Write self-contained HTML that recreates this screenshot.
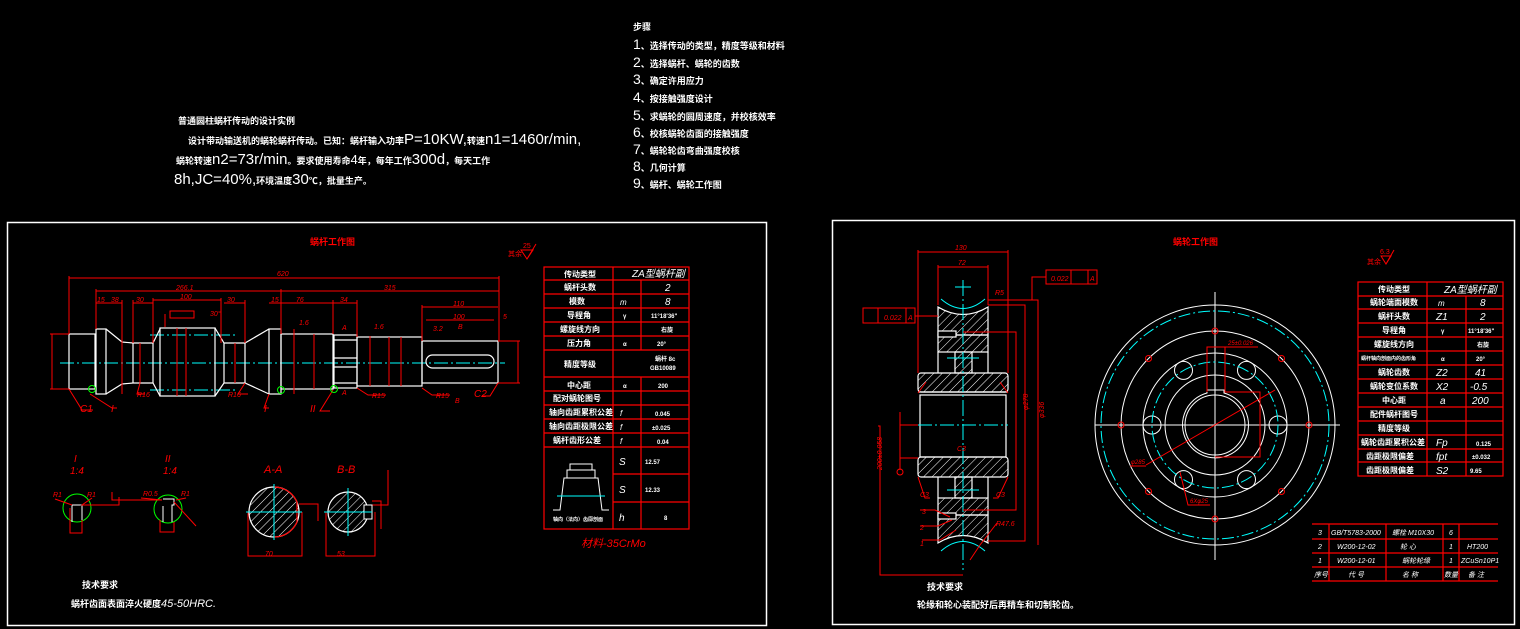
<!DOCTYPE html>
<html><head><meta charset="utf-8"><style>
html,body{margin:0;padding:0;background:#000;width:1520px;height:629px;overflow:hidden}
svg{display:block}
text{font-family:"Liberation Sans","Noto Sans CJK SC",sans-serif}
.w{fill:#fff}.r{fill:#f00}
</style></head><body>
<svg width="1520" height="629" viewBox="0 0 1520 629" xmlns="http://www.w3.org/2000/svg">
<defs>
<pattern id="h" width="6" height="6" patternUnits="userSpaceOnUse" patternTransform="rotate(45)">
<line x1="0" y1="0" x2="0" y2="6" stroke="#fff" stroke-width="1"/></pattern>
</defs>
<rect width="1520" height="629" fill="#000"/>

<!-- top text -->
<g class="w" font-size="9" font-weight="bold">
<text x="178" y="124">普通圆柱蜗杆传动的设计实例</text>
<text x="188" y="144">设计带动输送机的蜗轮蜗杆传动。已知：蜗杆输入功率<tspan font-size="15" font-weight="normal">P=10KW,</tspan>转速<tspan font-size="15" font-weight="normal">n1=1460r/min,</tspan></text>
<text x="176" y="164">蜗轮转速<tspan font-size="15" font-weight="normal">n2=73r/min</tspan>。要求使用寿命<tspan font-size="13" font-weight="normal">4</tspan>年，每年工作<tspan font-size="15" font-weight="normal">300d</tspan>，每天工作</text>
<text x="174" y="184"><tspan font-size="15" font-weight="normal">8h,JC=40%,</tspan>环境温度<tspan font-size="15" font-weight="normal">30</tspan>℃，批量生产。</text>
<text x="633" y="30">步骤</text>
<text x="633" y="49"><tspan font-size="14" font-weight="normal">1</tspan>、选择传动的类型，精度等级和材料</text>
<text x="633" y="67"><tspan font-size="14" font-weight="normal">2</tspan>、选择蜗杆、蜗轮的齿数</text>
<text x="633" y="84"><tspan font-size="14" font-weight="normal">3</tspan>、确定许用应力</text>
<text x="633" y="102"><tspan font-size="14" font-weight="normal">4</tspan>、按接触强度设计</text>
<text x="633" y="120"><tspan font-size="14" font-weight="normal">5</tspan>、求蜗轮的圆周速度，并校核效率</text>
<text x="633" y="137"><tspan font-size="14" font-weight="normal">6</tspan>、校核蜗轮齿面的接触强度</text>
<text x="633" y="154"><tspan font-size="14" font-weight="normal">7</tspan>、蜗轮轮齿弯曲强度校核</text>
<text x="633" y="171"><tspan font-size="14" font-weight="normal">8</tspan>、几何计算</text>
<text x="633" y="188"><tspan font-size="14" font-weight="normal">9</tspan>、蜗杆、蜗轮工作图</text>
</g>

<!-- frames -->
<rect x="7.5" y="222.5" width="759" height="403" fill="none" stroke="#fff" stroke-width="1.5"/>
<rect x="832.5" y="220.5" width="682" height="404" fill="none" stroke="#fff" stroke-width="1.5"/>

<!-- ===== LEFT: worm shaft ===== -->
<text x="310" y="245" class="r" font-size="9" font-weight="bold">蜗杆工作图</text>
<text x="508" y="256" class="r" font-size="7">其余</text>
<path d="M521 250 L533 250 L527 259 Z M527 259 L536 244" fill="none" stroke="#f00"/>
<text x="523" y="248" class="r" font-size="7">25</text>

<g stroke="#0ff" stroke-width="1" stroke-dasharray="14 3 2 3">
<line x1="60" y1="363" x2="505" y2="363"/>
<line x1="150" y1="335" x2="235" y2="335"/><line x1="150" y1="390" x2="235" y2="390"/>
</g>
<g fill="none" stroke="#fff" stroke-width="1.2">
<rect x="69" y="334" width="26" height="55"/>
<rect x="96" y="329" width="10" height="65"/>
<path d="M106 329 L122 342 L133 343 L153 343 L160 329 L160 328 M106 394 L122 384 L133 383 L153 383 L160 396"/>
<line x1="133" y1="343" x2="133" y2="383"/><line x1="153" y1="343" x2="153" y2="383"/>
<rect x="160" y="328" width="55" height="68"/>
<path d="M215 328 L224 343 L245 343 L269 329 M215 396 L224 383 L245 383 L269 394"/>
<line x1="224" y1="343" x2="224" y2="383"/><line x1="245" y1="343" x2="245" y2="383"/>
<rect x="269" y="329" width="12" height="65"/>
<rect x="281" y="334" width="52" height="55"/>
<rect x="334" y="335" width="23" height="53"/>
<line x1="334" y1="340" x2="357" y2="340"/><line x1="334" y1="383" x2="357" y2="383"/>
<line x1="334" y1="358" x2="357" y2="358"/><line x1="334" y1="367" x2="357" y2="367"/>
<rect x="357" y="337" width="65" height="49"/>
<rect x="422" y="341" width="76" height="42"/>
<rect x="426" y="355" width="68" height="13" rx="6.5"/>
</g>
<!-- shaft dims -->
<g fill="none" stroke="#f00" stroke-width="1">
<line x1="69" y1="278" x2="499" y2="278"/><line x1="69" y1="276" x2="69" y2="334"/><line x1="499" y1="276" x2="499" y2="341"/>
<line x1="96" y1="291" x2="499" y2="291"/><line x1="96" y1="289" x2="96" y2="329"/><line x1="281" y1="289" x2="281" y2="334"/>
<line x1="96" y1="303" x2="122" y2="303"/><line x1="133" y1="303" x2="153" y2="303"/><line x1="153" y1="300" x2="221" y2="300"/>
<line x1="224" y1="303" x2="245" y2="303"/><line x1="269" y1="303" x2="281" y2="303"/><line x1="281" y1="303" x2="333" y2="303"/>
<line x1="333" y1="303" x2="357" y2="303"/><line x1="422" y1="307" x2="498" y2="307"/><line x1="426" y1="320" x2="494" y2="320"/>
<line x1="122" y1="300" x2="122" y2="342"/><line x1="133" y1="300" x2="133" y2="343"/><line x1="153" y1="298" x2="153" y2="343"/>
<line x1="221" y1="298" x2="221" y2="343"/><line x1="245" y1="300" x2="245" y2="343"/><line x1="333" y1="300" x2="333" y2="334"/>
<line x1="357" y1="300" x2="357" y2="337"/><line x1="422" y1="305" x2="422" y2="341"/>
<line x1="50" y1="334" x2="69" y2="334"/><line x1="50" y1="389" x2="69" y2="389"/><line x1="52" y1="334" x2="52" y2="389"/>
<line x1="498" y1="341" x2="520" y2="341"/><line x1="498" y1="383" x2="520" y2="383"/><line x1="518" y1="341" x2="518" y2="383"/>
<line x1="122" y1="329" x2="122" y2="394"/><line x1="140" y1="343" x2="140" y2="383"/><line x1="177" y1="328" x2="177" y2="396"/>
<line x1="186" y1="328" x2="186" y2="396"/><line x1="235" y1="343" x2="235" y2="383"/><line x1="294" y1="329" x2="294" y2="394"/>
<line x1="314" y1="334" x2="314" y2="389"/><line x1="370" y1="336" x2="370" y2="386"/><line x1="389" y1="337" x2="389" y2="386"/>
<line x1="401" y1="337" x2="401" y2="386"/>
<path d="M69 389 L82 410 L93 410 M90 394 L112 408 L117 408 M269 394 L264 408 L269 408 M333 390 L320 411 L330 411 M357 388 L368 395 L386 395 M422 388 L432 395 L450 395 M498 383 L490 396 L482 396"/>
<path d="M140 383 L137 394 L145 394 M245 383 L238 394 L248 394"/>
<rect x="170" y="311" width="24" height="7"/><line x1="165" y1="314" x2="165" y2="327"/>
</g>
<g fill="none" stroke="#0f0"><circle cx="92" cy="389" r="3.5"/><circle cx="281" cy="390" r="3.5"/><circle cx="334" cy="389" r="3.5"/></g>
<g class="r" font-size="7" font-style="italic">
<text x="277" y="276">620</text><text x="176" y="290">266.1</text><text x="384" y="290">315</text>
<text x="97" y="302">15</text><text x="111" y="302">38</text><text x="136" y="302">30</text><text x="180" y="299">100</text>
<text x="227" y="302">30</text><text x="271" y="302">15</text><text x="296" y="302">76</text><text x="340" y="302">34</text>
<text x="453" y="306">110</text><text x="453" y="319">100</text><text x="503" y="319">5</text>
<text x="433" y="331">3.2</text><text x="374" y="329">1.6</text><text x="299" y="325">1.6</text><text x="210" y="316">30°</text>
<text x="80" y="412" font-size="10">C1</text><text x="111" y="412" font-size="10">I</text><text x="264" y="412" font-size="10">I</text>
<text x="310" y="412" font-size="10">II</text><text x="372" y="398">R15</text><text x="436" y="398">R15</text><text x="474" y="397" font-size="10">C2</text>
<text x="137" y="397">R16</text><text x="228" y="397">R16</text><text x="342" y="330">A</text><text x="342" y="395">A</text>
<text x="455" y="403">B</text><text x="458" y="329">B</text>
</g>
<!-- details -->
<g class="r" font-size="10" font-style="italic">
<text x="74" y="462">I</text><text x="70" y="474">1:4</text>
<text x="165" y="462">II</text><text x="163" y="474">1:4</text>
<text x="264" y="473" font-size="11">A-A</text><text x="337" y="473" font-size="11">B-B</text>
<text x="53" y="497" font-size="7">R1</text><text x="87" y="497" font-size="7">R1</text>
<text x="143" y="496" font-size="7">R0.5</text><text x="181" y="496" font-size="7">R1</text>
<text x="265" y="556" font-size="7">70</text><text x="337" y="556" font-size="7">53</text>
</g>
<g fill="none" stroke="#0f0"><circle cx="77" cy="508" r="14"/><circle cx="168" cy="509" r="14"/></g>
<g fill="none" stroke="#fff"><path d="M72 505 L72 522 M72 505 L82 505 L82 520 M163 506 L163 522 M163 499 L174 499 L174 505 L172 505 L172 522"/></g>
<g fill="none" stroke="#f00">
<path d="M70 508 L70 533 L82 533 L82 520 M55 499 L72 505 M92 498 L82 505 L119 505 L119 497 M160 520 L160 532 L174 532 L174 522 M141 498 L162 500 L112 500 L112 492 M186 498 L176 500 M174 502 L196 526"/>
<path d="M248 512 L248 556 L302 556 L302 512 M326 512 L326 556 L375 556 L375 512 M299 504 L318 504 L318 521 M372 501 L381 501 L381 529 M370 505 L388 505 L388 470"/>
</g>
<circle cx="274" cy="512" r="25" fill="url(#h)" stroke="#fff" stroke-width="1.2"/>
<path d="M274 487 A25 25 0 0 1 297 502 L297 522 A25 25 0 0 1 274 537" fill="none" stroke="#f00" stroke-width="1.2"/>
<circle cx="348" cy="512" r="20" fill="url(#h)" stroke="#fff" stroke-width="1.2"/>
<rect x="364" y="505" width="8" height="14" fill="#000" stroke="#fff"/>
<g stroke="#0ff"><line x1="246" y1="512" x2="302" y2="512"/><line x1="274" y1="484" x2="274" y2="540"/><line x1="324" y1="512" x2="372" y2="512"/><line x1="348" y1="488" x2="348" y2="536"/></g>
<g class="w" font-size="9" font-weight="bold">
<text x="82" y="588">技术要求</text>
<text x="71" y="607">蜗杆齿面表面淬火硬度<tspan font-size="11" font-weight="normal" font-style="italic">45-50HRC.</tspan></text>
</g>
<!-- shaft table -->
<g fill="none" stroke="#f00" stroke-width="1.2">
<rect x="544" y="267" width="145" height="262"/>
<line x1="613" y1="267" x2="613" y2="529"/><line x1="641" y1="280" x2="641" y2="350"/><line x1="641" y1="377" x2="641" y2="529"/>
<line x1="544" y1="280" x2="689" y2="280"/><line x1="544" y1="294" x2="689" y2="294"/><line x1="544" y1="308" x2="689" y2="308"/>
<line x1="544" y1="322" x2="689" y2="322"/><line x1="544" y1="336" x2="689" y2="336"/><line x1="544" y1="350" x2="689" y2="350"/>
<line x1="544" y1="377" x2="689" y2="377"/><line x1="544" y1="391" x2="689" y2="391"/><line x1="544" y1="405" x2="689" y2="405"/>
<line x1="544" y1="419" x2="689" y2="419"/><line x1="544" y1="433" x2="689" y2="433"/><line x1="544" y1="447" x2="689" y2="447"/>
<line x1="613" y1="474" x2="689" y2="474"/><line x1="613" y1="502" x2="689" y2="502"/>
</g>
<g class="w" font-size="8" font-weight="bold">
<text x="564" y="277">传动类型</text><text x="632" y="277" font-size="10" font-weight="normal" font-style="italic">ZA型蜗杆副</text>
<text x="564" y="290">蜗杆头数</text><text x="665" y="291" font-size="10" font-weight="normal" font-style="italic">2</text>
<text x="569" y="304">模数</text><text x="620" y="305" font-style="italic" font-weight="normal">m</text><text x="665" y="305" font-size="10" font-weight="normal" font-style="italic">8</text>
<text x="567" y="318">导程角</text><text x="623" y="318" font-size="6">γ</text><text x="651" y="318" font-size="6">11°18'36"</text>
<text x="560" y="332">螺旋线方向</text><text x="661" y="332" font-size="6">右旋</text>
<text x="567" y="346">压力角</text><text x="623" y="346" font-size="6">α</text><text x="657" y="346" font-size="6">20°</text>
<text x="564" y="367">精度等级</text><text x="655" y="361" font-size="6">蜗杆 8c</text><text x="650" y="370" font-size="6">GB10089</text>
<text x="567" y="388">中心距</text><text x="623" y="388" font-size="6">α</text><text x="658" y="388" font-size="6">200</text>
<text x="553" y="401">配对蜗轮图号</text>
<text x="549" y="415">轴向齿距累积公差</text><text x="620" y="416" font-style="italic" font-weight="normal">f</text><text x="655" y="416" font-size="6">0.045</text>
<text x="549" y="429">轴向齿距极限公差</text><text x="620" y="430" font-style="italic" font-weight="normal">f</text><text x="652" y="430" font-size="6">±0.025</text>
<text x="553" y="443">蜗杆齿形公差</text><text x="620" y="444" font-style="italic" font-weight="normal">f</text><text x="657" y="444" font-size="6">0.04</text>
<text x="619" y="465" font-size="10" font-weight="normal" font-style="italic">S</text><text x="645" y="464" font-size="6">12.57</text>
<text x="619" y="493" font-size="10" font-weight="normal" font-style="italic">S</text><text x="645" y="492" font-size="6">12.33</text>
<text x="619" y="521" font-size="10" font-weight="normal" font-style="italic">h</text><text x="664" y="520" font-size="6">8</text>
<text x="553" y="521" font-size="5">轴向（法向）齿廓剖面</text>
</g>
<path d="M553 510 L560 510 L564 478 L598 478 L602 510 L609 510 M567 478 L567 470 L595 470 L595 478 M570 470 L570 464 L592 464 L592 470" fill="none" stroke="#fff"/>
<line x1="557" y1="496" x2="605" y2="496" stroke="#0ff"/>
<text x="581" y="547" class="r" font-size="11" font-style="italic">材料-35CrMo</text>

<!-- ===== RIGHT: worm wheel ===== -->
<text x="1173" y="245" class="r" font-size="9" font-weight="bold">蜗轮工作图</text>
<text x="1367" y="264" class="r" font-size="7">其余</text>
<path d="M1381 256 L1391 256 L1386 264 Z M1386 264 L1394 250" fill="none" stroke="#f00"/>
<text x="1380" y="254" class="r" font-size="7">6.3</text>

<!-- side view -->
<g stroke="#fff" stroke-width="1.2">
<rect x="938" y="335" width="50" height="17" fill="url(#h)"/>
<rect x="955" y="352" width="17" height="21" fill="url(#h)"/>
<rect x="918" y="373" width="90" height="19" fill="url(#h)" rx="3"/>
<rect x="918" y="457" width="90" height="20" fill="url(#h)" rx="3"/>
<rect x="955" y="477" width="17" height="21" fill="url(#h)"/>
<rect x="938" y="498" width="50" height="17" fill="url(#h)"/>
<path d="M938 307 Q963 322 988 307 L988 335 L938 335 Z" fill="url(#h)"/>
<path d="M938 515 L988 515 L988 543 Q963 528 938 543 Z" fill="url(#h)"/>
<rect x="920" y="395" width="86" height="62" fill="none"/>
<line x1="918" y1="392" x2="1008" y2="392"/>
<line x1="938" y1="352" x2="938" y2="373" /><line x1="988" y1="352" x2="988" y2="373"/>
<line x1="938" y1="477" x2="938" y2="498"/><line x1="988" y1="477" x2="988" y2="498"/>
<rect x="938" y="331" width="18" height="6" fill="#000"/><rect x="938" y="513" width="18" height="6" fill="#000"/>
</g>
<g stroke="#0ff" stroke-width="1">
<line x1="963" y1="280" x2="963" y2="570" stroke-dasharray="16 3 2 3"/>
<line x1="955" y1="287" x2="971" y2="287"/><line x1="918" y1="425" x2="1008" y2="425" stroke-dasharray="14 3 2 3"/>
<line x1="947" y1="358" x2="979" y2="358"/><line x1="947" y1="490" x2="979" y2="490"/>
<path d="M941 299 Q963 318 985 299 M941 551 Q963 532 985 551" fill="none"/>
</g>
<g fill="none" stroke="#f00" stroke-width="1">
<line x1="918" y1="252" x2="1008" y2="252"/><line x1="918" y1="250" x2="918" y2="373"/><line x1="1008" y1="250" x2="1008" y2="373"/>
<line x1="938" y1="267" x2="988" y2="267"/><line x1="938" y1="265" x2="938" y2="305"/><line x1="988" y1="265" x2="988" y2="305"/>
<rect x="1046" y="270" width="51" height="14"/><line x1="1071" y1="270" x2="1071" y2="284"/><line x1="1088" y1="270" x2="1088" y2="284"/>
<path d="M1046 277 L1032 277 L1032 300 L1038 300 L1038 545 M988 300 L1038 300"/>
<rect x="863" y="308" width="52" height="15"/><line x1="878" y1="308" x2="878" y2="323"/><line x1="906" y1="308" x2="906" y2="323"/>
<line x1="915" y1="316" x2="938" y2="316"/>
<path d="M988 305 L1025 305 L1025 541 L988 541 M963 332 L1016 332 L1016 510 L963 510"/>
<path d="M878 426 L880 426 L880 575 L963 575 M900 425 L918 425 M900 458 L918 458 M900 412 L900 470"/>
<path d="M918 477 L925 498 L930 498 M1008 477 L998 498 L993 498 M918 393 L926 382 M1008 393 L1000 382"/>
<path d="M920 510 L935 510 L950 517 M920 526 L938 526 L952 520 M922 540 L940 540 L956 530 M997 523 L980 545 L970 560"/>
<circle cx="900" cy="472" r="3"/>
</g>
<g class="r" font-size="7" font-style="italic">
<text x="955" y="250">130</text><text x="958" y="265">72</text><text x="1051" y="281">0.022</text><text x="1090" y="281">A</text>
<text x="884" y="320">0.022</text><text x="908" y="320">A</text><text x="995" y="295">R5</text><text x="996" y="526">R47.6</text>
<text x="957" y="451">C3</text><text x="920" y="497">C3</text><text x="996" y="497">C3</text>
<text x="922" y="514">3</text><text x="920" y="530">2</text><text x="920" y="546">1</text>
<text transform="translate(882 470) rotate(-90)">200±0.058</text>
<text transform="translate(1028 410) rotate(-90)">φ278</text><text transform="translate(1044 418) rotate(-90)">φ336</text>
</g>
<text x="927" y="590" class="w" font-size="9" font-weight="bold">技术要求</text>
<text x="917" y="608" class="w" font-size="9" font-weight="bold">轮缘和轮心装配好后再精车和切制轮齿。</text>

<!-- front view -->
<g fill="none" stroke="#fff" stroke-width="1">
<circle cx="1215" cy="425" r="120"/><circle cx="1215" cy="425" r="94"/><circle cx="1215" cy="425" r="72"/>
<circle cx="1215" cy="425" r="50"/><circle cx="1215" cy="425" r="30"/>
<path d="M1207 393 A33 33 0 1 0 1224 393 L1224 390 L1207 390 Z"/>
<line x1="1095" y1="425" x2="1340" y2="425"/><line x1="1215" y1="292" x2="1215" y2="560"/>
<circle cx="1278" cy="425" r="9"/><circle cx="1152" cy="425" r="9"/>
<circle cx="1246.5" cy="370.4" r="9"/><circle cx="1183.5" cy="370.4" r="9"/>
<circle cx="1246.5" cy="479.6" r="9"/><circle cx="1183.5" cy="479.6" r="9"/>
</g>
<g fill="none" stroke="#0ff" stroke-width="1" stroke-dasharray="12 3 2 3">
<circle cx="1215" cy="425" r="114"/><circle cx="1215" cy="425" r="63"/>
</g>
<g fill="none" stroke="#f00" stroke-width="1">
<circle cx="1215" cy="331" r="3"/><circle cx="1215" cy="519" r="3"/><circle cx="1121" cy="425" r="3"/><circle cx="1309" cy="425" r="3"/>
<circle cx="1148.5" cy="358.5" r="3"/><circle cx="1281.5" cy="358.5" r="3"/><circle cx="1148.5" cy="491.5" r="3"/><circle cx="1281.5" cy="491.5" r="3"/>
<path d="M1207 392 L1207 347 L1225 347 L1225 392 L1260 392 L1260 457 L1215 457 M1225 347 L1258 347"/>
<path d="M1146 465 L1275 390 M1130 466 L1146 466 M1180 472 L1188 505 L1210 505"/>
</g>
<g class="r" font-size="6" font-style="italic"><text x="1228" y="345">25±0.026</text><text x="1131" y="464">φ285</text><text x="1190" y="503">6Xφ25</text></g>

<!-- wheel table -->
<g fill="none" stroke="#f00" stroke-width="1.2">
<rect x="1358" y="282" width="145" height="194"/>
<line x1="1427" y1="282" x2="1427" y2="476"/><line x1="1466" y1="296" x2="1466" y2="476"/>
<line x1="1358" y1="296" x2="1503" y2="296"/><line x1="1358" y1="309" x2="1503" y2="309"/><line x1="1358" y1="323" x2="1503" y2="323"/>
<line x1="1358" y1="337" x2="1503" y2="337"/><line x1="1358" y1="351" x2="1503" y2="351"/><line x1="1358" y1="365" x2="1503" y2="365"/>
<line x1="1358" y1="379" x2="1503" y2="379"/><line x1="1358" y1="393" x2="1503" y2="393"/><line x1="1358" y1="407" x2="1503" y2="407"/>
<line x1="1358" y1="421" x2="1503" y2="421"/><line x1="1358" y1="435" x2="1503" y2="435"/><line x1="1358" y1="449" x2="1503" y2="449"/>
<line x1="1358" y1="462" x2="1503" y2="462"/>
</g>
<g class="w" font-size="8" font-weight="bold">
<text x="1378" y="292">传动类型</text><text x="1444" y="293" font-size="10" font-weight="normal" font-style="italic">ZA型蜗杆副</text>
<text x="1370" y="305">蜗轮端面模数</text><text x="1438" y="306" font-style="italic" font-weight="normal">m</text><text x="1480" y="306" font-size="10" font-weight="normal" font-style="italic">8</text>
<text x="1378" y="319">蜗杆头数</text><text x="1436" y="320" font-size="10" font-weight="normal" font-style="italic">Z1</text><text x="1480" y="320" font-size="10" font-weight="normal" font-style="italic">2</text>
<text x="1382" y="333">导程角</text><text x="1441" y="333" font-size="6">γ</text><text x="1468" y="333" font-size="6">11°18'36"</text>
<text x="1374" y="347">螺旋线方向</text><text x="1477" y="347" font-size="6">右旋</text>
<text x="1361" y="360" font-size="5">蜗杆轴向剖面内的齿形角</text><text x="1441" y="361" font-size="6">α</text><text x="1476" y="361" font-size="6">20°</text>
<text x="1378" y="375">蜗轮齿数</text><text x="1436" y="376" font-size="10" font-weight="normal" font-style="italic">Z2</text><text x="1475" y="376" font-size="10" font-weight="normal" font-style="italic">41</text>
<text x="1370" y="389">蜗轮变位系数</text><text x="1436" y="390" font-size="10" font-weight="normal" font-style="italic">X2</text><text x="1470" y="390" font-size="10" font-weight="normal" font-style="italic">-0.5</text>
<text x="1382" y="403">中心距</text><text x="1440" y="404" font-size="10" font-weight="normal" font-style="italic">a</text><text x="1472" y="404" font-size="10" font-weight="normal" font-style="italic">200</text>
<text x="1370" y="417">配件蜗杆图号</text>
<text x="1378" y="431">精度等级</text>
<text x="1361" y="445">蜗轮齿距累积公差</text><text x="1436" y="446" font-size="10" font-weight="normal" font-style="italic">Fp</text><text x="1476" y="446" font-size="6">0.125</text>
<text x="1366" y="459">齿距极限偏差</text><text x="1436" y="460" font-size="10" font-weight="normal" font-style="italic">fpt</text><text x="1472" y="459" font-size="6">±0.032</text>
<text x="1366" y="473">齿距极限偏差</text><text x="1436" y="474" font-size="10" font-weight="normal" font-style="italic">S2</text><text x="1470" y="473" font-size="6">9.65</text>
</g>
<!-- parts list -->
<g fill="none" stroke="#f00" stroke-width="1.2">
<line x1="1312" y1="524" x2="1498" y2="524"/><line x1="1312" y1="539" x2="1498" y2="539"/><line x1="1312" y1="553" x2="1498" y2="553"/>
<line x1="1312" y1="567" x2="1498" y2="567"/><line x1="1312" y1="581" x2="1498" y2="581"/>
<line x1="1329" y1="524" x2="1329" y2="581"/><line x1="1386" y1="524" x2="1386" y2="581"/><line x1="1443" y1="524" x2="1443" y2="581"/><line x1="1459" y1="524" x2="1459" y2="581"/>
</g>
<g class="w" font-size="7" font-style="italic">
<text x="1318" y="535">3</text><text x="1331" y="535">GB/T5783-2000</text><text x="1392" y="535">螺栓 M10X30</text><text x="1449" y="535">6</text>
<text x="1318" y="549">2</text><text x="1337" y="549">W200-12-02</text><text x="1400" y="549">轮  心</text><text x="1449" y="549">1</text><text x="1467" y="549">HT200</text>
<text x="1318" y="563">1</text><text x="1337" y="563">W200-12-01</text><text x="1402" y="563">蜗轮轮缘</text><text x="1449" y="563">1</text><text x="1461" y="563">ZCuSn10P1</text>
<text x="1314" y="577">序号</text><text x="1348" y="577">代  号</text><text x="1402" y="577">名  称</text><text x="1444" y="577">数量</text><text x="1468" y="577">备  注</text>
</g>
</svg>
</body></html>
